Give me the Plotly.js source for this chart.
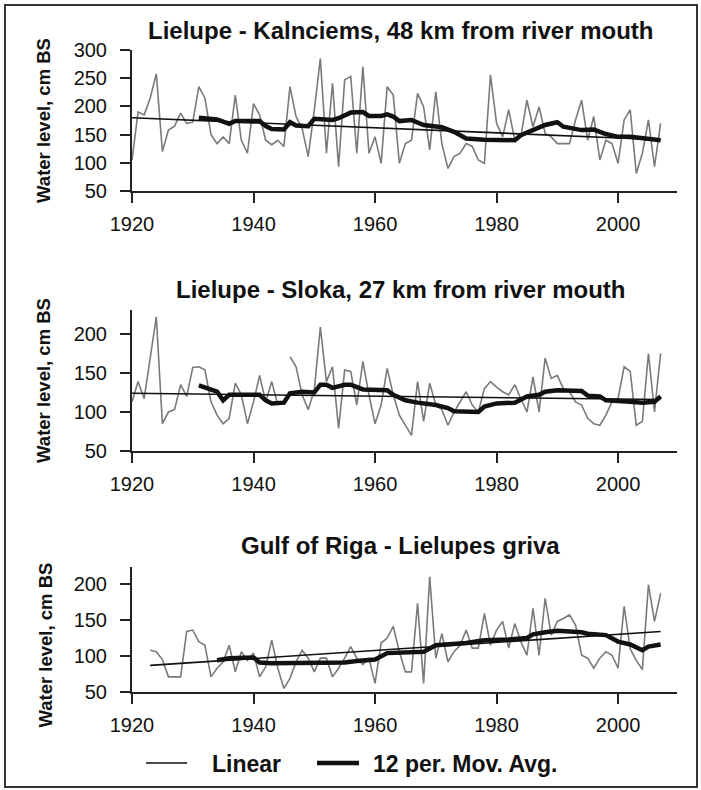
<!DOCTYPE html>
<html>
<head>
<meta charset="utf-8">
<script src="https://cdn.plot.ly/plotly-3.0.1.min.js"></script>
<style>html,body{margin:0;padding:0;background:#fff;}#chart{width:701px;height:790px;}</style>
</head>
<body>
<div id="chart"></div>
<script>
// ---- Data ----
const years = [1920,1921,1922,1923,1924,1925,1926,1927,1928,1929,
  1930,1931,1932,1933,1934,1935,1936,1937,1938,1939,
  1940,1941,1942,1943,1944,1945,1946,1947,1948,1949,
  1950,1951,1952,1953,1954,1955,1956,1957,1958,1959,
  1960,1961,1962,1963,1964,1965,1966,1967,1968,1969,
  1970,1971,1972,1973,1974,1975,1976,1977,1978,1979,
  1980,1981,1982,1983,1984,1985,1986,1987,1988,1989,
  1990,1991,1992,1993,1994,1995,1996,1997,1998,1999,
  2000,2001,2002,2003,2004,2005,2006,2007];

const kalnciems = [105,190,185,215,258,120,158,165,188,170,
  172,235,215,150,134,146,134,220,140,117,
  205,185,140,132,140,129,235,182,161,111,
  193,285,117,241,93,247,253,117,270,117,
  146,99,235,220,99,134,140,223,199,123,
  226,134,90,111,117,134,129,105,99,256,
  170,146,194,140,146,211,164,199,152,146,
  134,134,134,176,211,140,182,105,140,134,
  99,176,194,81,117,176,93,170];

const sloka = [113,139,117,169,222,85,100,103,135,120,
  157,158,154,113,96,85,92,137,122,85,
  113,147,113,139,109,null,171,158,122,103,
  128,209,139,158,79,154,152,109,165,122,
  85,109,156,122,96,83,70,139,88,137,
  109,103,83,100,113,126,109,100,130,139,
  132,126,122,135,117,100,145,100,169,143,
  147,130,126,113,109,92,85,83,96,113,
  117,158,152,83,88,175,100,175];

const grivaYears = [1923,1924,1925,1926,1927,1928,1929,
  1930,1931,1932,1933,1934,1935,1936,1937,1938,1939,
  1940,1941,1942,1943,1944,1945,1946,1947,1948,1949,
  1950,1951,1952,1953,1954,1955,1956,1957,1958,1959,
  1960,1961,1962,1963,1964,1965,1966,1967,1968,1969,
  1970,1971,1972,1973,1974,1975,1976,1977,1978,1979,
  1980,1981,1982,1983,1984,1985,1986,1987,1988,1989,
  1990,1991,1992,1993,1994,1995,1996,1997,1998,1999,
  2000,2001,2002,2003,2004,2005,2006,2007];

const griva = [108,106,95,71,71,71,134,
  136,120,115,71,83,92,115,78,106,94,
  104,71,85,122,83,55,69,92,108,97,
  78,97,97,71,83,97,113,97,88,97,
  62,118,125,141,106,78,78,173,62,210,
  97,131,92,106,115,136,111,111,159,115,
  136,148,111,145,120,101,166,101,180,129,
  148,152,157,143,101,97,83,97,106,101,
  83,169,110,94,81,199,148,187];

// 12-period moving averages
const kalnMaYears = [1931,1933,1934,1936,1937,1941,1942,1943,1945,1946,1947,1949,1950,1953,1954,1956,1958,1959,1961,1962,1963,1964,1966,1968,1971,1973,1975,1978,1983,1984,1986,1988,1990,1991,1994,1996,1998,2000,2002,2005,2007];
const kalnMa = [180,178,177,169,174,174,165,160,159,172,166,165,178,176,179,189,190,183,183,186,182,174,176,167,163,155,143,141,140,149,158,167,172,164,158,159,151,146,146,142,140];

const slokaMaYears = [1931,1934,1935,1936,1941,1942,1943,1945,1946,1948,1950,1951,1952,1953,1955,1956,1958,1962,1963,1965,1967,1970,1972,1973,1977,1978,1980,1983,1985,1987,1988,1990,1994,1995,1997,1998,2002,2004,2006,2007];
const slokaMa = [134,126,115,122,122,115,111,112,124,126,125,135,135,131,135,135,129,128,122,115,112,109,105,101,100,107,111,112,120,122,126,128,127,121,120,115,113,112,113,120];

const grivaMaYears = [1934,1936,1940,1941,1943,1950,1955,1957,1960,1962,1966,1968,1970,1975,1978,1980,1982,1985,1986,1988,1990,1994,1995,1998,1999,2000,2002,2004,2005,2007];
const grivaMa = [94,97,98,91,90,90,91,93,95,104,106,106,115,118,122,122,123,125,130,133,135,133,131,129,125,120,116,108,113,116];

// Linear trend end points
const kalnLinYears = [1920, 2007];
const kalnLin = [180, 141];
const slokaLinYears = [1920, 2007];
const slokaLin = [124, 116];
const grivaLinYears = [1923, 2007];
const grivaLin = [87, 134];

const titles = ['Lielupe - Kalnciems, 48 km from river mouth',
                'Lielupe - Sloka, 27 km from river mouth',
                'Gulf of Riga - Lielupes griva'];
const yTitle = 'Water level, cm BS';
const xTicks = [1920, 1940, 1960, 1980, 2000];
const legendNames = ['Linear', '12 per. Mov. Avg.'];

// ---- Build ----
const W = 701, H = 790;
const FONT = 'Liberation Sans, Arial, Helvetica, sans-serif';
const GRAY = '#7a7a7a', BLACK = '#111111';

const panels = [
  {x: years, y: kalnciems, mx: kalnMaYears, my: kalnMa, lx: kalnLinYears, ly: kalnLin, yr: [50, 300], top: 50, bot: 191},
  {x: years, y: sloka, mx: slokaMaYears, my: slokaMa, lx: slokaLinYears, ly: slokaLin, yr: [50, 230.8], top: 310, bot: 451},
  {x: grivaYears, y: griva, mx: grivaMaYears, my: grivaMa, lx: grivaLinYears, ly: grivaLin, yr: [50, 223.6], top: 567, bot: 692}
];

const traces = [];
const legY = 1 - 764 / H;
const layout = {
  width: W, height: H,
  margin: {l: 0, r: 0, t: 0, b: 0},
  paper_bgcolor: '#fff', plot_bgcolor: 'rgba(0,0,0,0)',
  font: {family: FONT, color: BLACK, size: 20},
  showlegend: false,
  annotations: [
    {text: legendNames[0], xref: 'paper', yref: 'paper', x: 210 / W, y: legY, xanchor: 'left', yanchor: 'middle',
     showarrow: false, font: {family: FONT, size: 23, color: BLACK, weight: 'bold'}},
    {text: legendNames[1], xref: 'paper', yref: 'paper', x: 371 / W, y: legY, xanchor: 'left', yanchor: 'middle',
     showarrow: false, font: {family: FONT, size: 23, color: BLACK, weight: 'bold'}}
  ],
  shapes: [
    {type: 'rect', xref: 'paper', yref: 'paper', x0: 5 / W, x1: 697 / W, y0: 1 - 787 / H, y1: 1 - 5 / H,
     line: {color: '#333', width: 2}, fillcolor: 'rgba(0,0,0,0)'},
    {type: 'line', xref: 'paper', yref: 'paper', x0: 146 / W, x1: 187 / W, y0: 1 - 763 / H, y1: 1 - 763 / H,
     line: {color: BLACK, width: 1.6}},
    {type: 'line', xref: 'paper', yref: 'paper', x0: 317 / W, x1: 359 / W, y0: 1 - 763 / H, y1: 1 - 763 / H,
     line: {color: BLACK, width: 4.5}}
  ]
};

const titleY = [31, 290, 545];

panels.forEach((p, i) => {
  const n = i === 0 ? '' : String(i + 1);
  const xa = 'x' + n, ya = 'y' + n;
  traces.push({x: p.x, y: p.y, xaxis: xa, yaxis: ya, type: 'scatter', mode: 'lines',
               line: {color: GRAY, width: 1.6}, connectgaps: false, name: 'Water level'});
  traces.push({x: p.lx, y: p.ly, xaxis: xa, yaxis: ya, type: 'scatter', mode: 'lines',
               line: {color: BLACK, width: 1.6}, name: legendNames[0]});
  traces.push({x: p.mx, y: p.my, xaxis: xa, yaxis: ya, type: 'scatter', mode: 'lines',
               line: {color: BLACK, width: 4.5}, name: legendNames[1]});

  layout['xaxis' + n] = {
    domain: [132 / W, 677 / W], range: [1920, 2009.7], anchor: ya,
    tickvals: xTicks, ticktext: xTicks.map(String),
    ticks: 'outside', ticklen: 10, tickwidth: 2, tickcolor: '#222',
    showline: true, linewidth: 2, linecolor: '#222',
    showgrid: false, zeroline: false, ticklabelstandoff: 4,
    tickfont: {family: FONT, size: 20, color: BLACK}
  };
  layout['yaxis' + n] = {
    domain: [1 - p.bot / H, 1 - p.top / H], range: p.yr, anchor: xa,
    dtick: 50, tick0: 50,
    ticks: 'outside', ticklen: 10, tickwidth: 2, tickcolor: '#222',
    showline: true, linewidth: 2, linecolor: '#222',
    showgrid: false, zeroline: false, ticklabelstandoff: 9,
    tickfont: {family: FONT, size: 20, color: BLACK},
    title: {text: i === 2 ? '' : yTitle, font: {family: FONT, size: 18.5, color: BLACK, weight: 'bold'}, standoff: 18}
  };
  layout.annotations.push({text: titles[i], xref: 'paper', yref: 'paper', x: 400 / W, y: 1 - titleY[i] / H,
    xanchor: 'center', yanchor: 'middle', showarrow: false,
    font: {family: FONT, size: 24, color: BLACK, weight: 'bold'}});
});

// third panel's axis title sits lower than its axis centre in the reference
layout.annotations.push({text: yTitle, xref: 'paper', yref: 'paper', x: 44.5 / W, y: 1 - 645 / H,
  xanchor: 'center', yanchor: 'middle', textangle: -90, showarrow: false,
  font: {family: FONT, size: 18.5, color: BLACK, weight: 'bold'}});

Plotly.newPlot('chart', traces, layout, {staticPlot: true, displayModeBar: false});
</script>
</body>
</html>
